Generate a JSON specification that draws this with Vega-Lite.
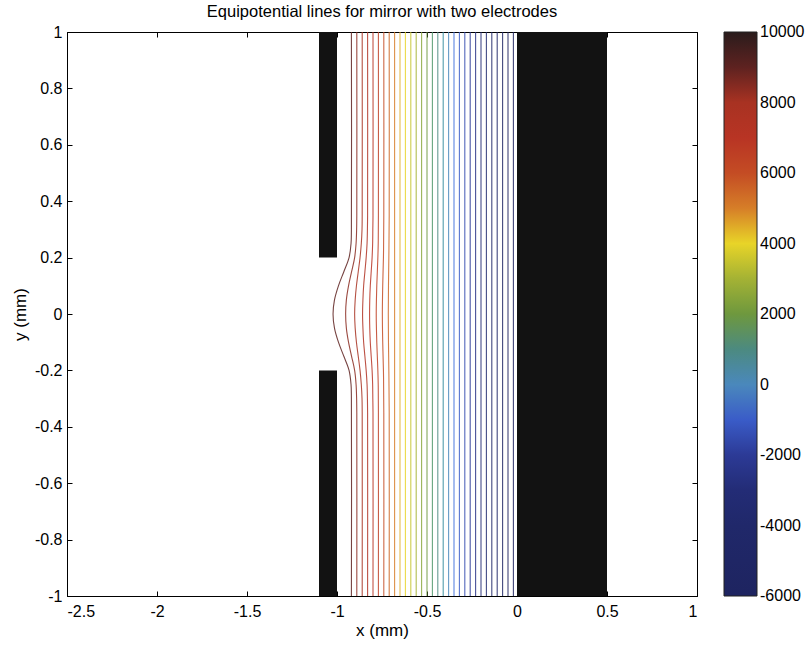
{
  "$schema": "https://vega.github.io/schema/vega-lite/v6.json",
  "width": 630,
  "height": 564,
  "autosize": {"type": "none"},
  "padding": {"left": 67, "top": 32, "right": 110, "bottom": 49},
  "background": "white",
  "config": {
    "font": "Liberation Sans",
    "view": {"stroke": "#000", "strokeWidth": 1},
    "axis": {"grid": false, "labelFontSize": 16, "labelColor": "#000", "labelFont": "Liberation Sans", "titleFont": "Liberation Sans", "titleFontSize": 17, "titleFontWeight": "normal", "titleColor": "#000", "tickColor": "#000", "domainColor": "#000", "tickSize": -5, "labelExpr": "toString(datum.value)"}
  },
  "title": {"text": "Equipotential lines for mirror with two electrodes", "fontSize": 16.5, "fontWeight": "normal", "font": "Liberation Sans", "color": "#000", "anchor": "middle", "offset": 12, "baseline": "bottom", "dy": 24},
  "datasets": {
    "electrodes": [
      {"x1": -1.1, "x2": -1.0, "y1": 0.2, "y2": 1.0},
      {"x1": -1.1, "x2": -1.0, "y1": -1.0, "y2": -0.2},
      {"x1": 0.0, "x2": 0.5, "y1": -1.0, "y2": 1.0}
    ],
    "lines": [
      {"v": 9000, "y": -1, "x": -0.92}, {"v": 9000, "y": -0.3, "x": -0.92}, {"v": 9000, "y": -0.25, "x": -0.922}, {"v": 9000, "y": -0.2, "x": -0.933}, {"v": 9000, "y": -0.15, "x": -0.962}, {"v": 9000, "y": -0.1, "x": -0.992}, {"v": 9000, "y": -0.05, "x": -1.014}, {"v": 9000, "y": 0, "x": -1.022}, {"v": 9000, "y": 0.05, "x": -1.014}, {"v": 9000, "y": 0.1, "x": -0.992}, {"v": 9000, "y": 0.15, "x": -0.962}, {"v": 9000, "y": 0.2, "x": -0.933}, {"v": 9000, "y": 0.25, "x": -0.922}, {"v": 9000, "y": 0.3, "x": -0.92}, {"v": 9000, "y": 1, "x": -0.92},
      {"v": 8500, "y": -1, "x": -0.89}, {"v": 8500, "y": -0.35, "x": -0.89}, {"v": 8500, "y": -0.3, "x": -0.891}, {"v": 8500, "y": -0.25, "x": -0.894}, {"v": 8500, "y": -0.2, "x": -0.902}, {"v": 8500, "y": -0.15, "x": -0.919}, {"v": 8500, "y": -0.1, "x": -0.936}, {"v": 8500, "y": -0.05, "x": -0.948}, {"v": 8500, "y": 0, "x": -0.952}, {"v": 8500, "y": 0.05, "x": -0.948}, {"v": 8500, "y": 0.1, "x": -0.936}, {"v": 8500, "y": 0.15, "x": -0.919}, {"v": 8500, "y": 0.2, "x": -0.902}, {"v": 8500, "y": 0.25, "x": -0.894}, {"v": 8500, "y": 0.3, "x": -0.891}, {"v": 8500, "y": 0.35, "x": -0.89}, {"v": 8500, "y": 1, "x": -0.89},
      {"v": 8000, "y": -1, "x": -0.86}, {"v": 8000, "y": -0.35, "x": -0.86}, {"v": 8000, "y": -0.3, "x": -0.861}, {"v": 8000, "y": -0.25, "x": -0.865}, {"v": 8000, "y": -0.2, "x": -0.872}, {"v": 8000, "y": -0.15, "x": -0.882}, {"v": 8000, "y": -0.1, "x": -0.892}, {"v": 8000, "y": -0.05, "x": -0.899}, {"v": 8000, "y": 0, "x": -0.902}, {"v": 8000, "y": 0.05, "x": -0.899}, {"v": 8000, "y": 0.1, "x": -0.892}, {"v": 8000, "y": 0.15, "x": -0.882}, {"v": 8000, "y": 0.2, "x": -0.872}, {"v": 8000, "y": 0.25, "x": -0.865}, {"v": 8000, "y": 0.3, "x": -0.861}, {"v": 8000, "y": 0.35, "x": -0.86}, {"v": 8000, "y": 1, "x": -0.86},
      {"v": 7500, "y": -1, "x": -0.83}, {"v": 7500, "y": -0.35, "x": -0.83}, {"v": 7500, "y": -0.3, "x": -0.831}, {"v": 7500, "y": -0.25, "x": -0.833}, {"v": 7500, "y": -0.2, "x": -0.838}, {"v": 7500, "y": -0.15, "x": -0.845}, {"v": 7500, "y": -0.1, "x": -0.852}, {"v": 7500, "y": -0.05, "x": -0.856}, {"v": 7500, "y": 0, "x": -0.858}, {"v": 7500, "y": 0.05, "x": -0.856}, {"v": 7500, "y": 0.1, "x": -0.852}, {"v": 7500, "y": 0.15, "x": -0.845}, {"v": 7500, "y": 0.2, "x": -0.838}, {"v": 7500, "y": 0.25, "x": -0.833}, {"v": 7500, "y": 0.3, "x": -0.831}, {"v": 7500, "y": 0.35, "x": -0.83}, {"v": 7500, "y": 1, "x": -0.83},
      {"v": 7000, "y": -1, "x": -0.8}, {"v": 7000, "y": -0.35, "x": -0.8}, {"v": 7000, "y": -0.3, "x": -0.801}, {"v": 7000, "y": -0.25, "x": -0.802}, {"v": 7000, "y": -0.2, "x": -0.805}, {"v": 7000, "y": -0.15, "x": -0.81}, {"v": 7000, "y": -0.1, "x": -0.815}, {"v": 7000, "y": -0.05, "x": -0.818}, {"v": 7000, "y": 0, "x": -0.819}, {"v": 7000, "y": 0.05, "x": -0.818}, {"v": 7000, "y": 0.1, "x": -0.815}, {"v": 7000, "y": 0.15, "x": -0.81}, {"v": 7000, "y": 0.2, "x": -0.805}, {"v": 7000, "y": 0.25, "x": -0.802}, {"v": 7000, "y": 0.3, "x": -0.801}, {"v": 7000, "y": 0.35, "x": -0.8}, {"v": 7000, "y": 1, "x": -0.8},
      {"v": 6500, "y": -1, "x": -0.77}, {"v": 6500, "y": -0.35, "x": -0.77}, {"v": 6500, "y": -0.25, "x": -0.771}, {"v": 6500, "y": -0.2, "x": -0.773}, {"v": 6500, "y": -0.15, "x": -0.776}, {"v": 6500, "y": -0.1, "x": -0.779}, {"v": 6500, "y": -0.05, "x": -0.781}, {"v": 6500, "y": 0, "x": -0.782}, {"v": 6500, "y": 0.05, "x": -0.781}, {"v": 6500, "y": 0.1, "x": -0.779}, {"v": 6500, "y": 0.15, "x": -0.776}, {"v": 6500, "y": 0.2, "x": -0.773}, {"v": 6500, "y": 0.25, "x": -0.771}, {"v": 6500, "y": 0.35, "x": -0.77}, {"v": 6500, "y": 1, "x": -0.77},
      {"v": 6000, "y": -1, "x": -0.74}, {"v": 6000, "y": -0.35, "x": -0.74}, {"v": 6000, "y": -0.2, "x": -0.742}, {"v": 6000, "y": -0.1, "x": -0.746}, {"v": 6000, "y": 0, "x": -0.748}, {"v": 6000, "y": 0.1, "x": -0.746}, {"v": 6000, "y": 0.2, "x": -0.742}, {"v": 6000, "y": 0.35, "x": -0.74}, {"v": 6000, "y": 1, "x": -0.74},
      {"v": 5500, "y": -1, "x": -0.71}, {"v": 5500, "y": -0.35, "x": -0.71}, {"v": 5500, "y": -0.2, "x": -0.712}, {"v": 5500, "y": -0.1, "x": -0.714}, {"v": 5500, "y": 0, "x": -0.715}, {"v": 5500, "y": 0.1, "x": -0.714}, {"v": 5500, "y": 0.2, "x": -0.712}, {"v": 5500, "y": 0.35, "x": -0.71}, {"v": 5500, "y": 1, "x": -0.71},
      {"v": 5000, "y": -1, "x": -0.68}, {"v": 5000, "y": 1, "x": -0.68},
      {"v": 4500, "y": -1, "x": -0.65}, {"v": 4500, "y": 1, "x": -0.65},
      {"v": 4000, "y": -1, "x": -0.62}, {"v": 4000, "y": 1, "x": -0.62},
      {"v": 3500, "y": -1, "x": -0.59}, {"v": 3500, "y": 1, "x": -0.59},
      {"v": 3000, "y": -1, "x": -0.56}, {"v": 3000, "y": 1, "x": -0.56},
      {"v": 2500, "y": -1, "x": -0.53}, {"v": 2500, "y": 1, "x": -0.53},
      {"v": 2000, "y": -1, "x": -0.5}, {"v": 2000, "y": 1, "x": -0.5},
      {"v": 1500, "y": -1, "x": -0.47}, {"v": 1500, "y": 1, "x": -0.47},
      {"v": 1000, "y": -1, "x": -0.44}, {"v": 1000, "y": 1, "x": -0.44},
      {"v": 500, "y": -1, "x": -0.41}, {"v": 500, "y": 1, "x": -0.41},
      {"v": 0, "y": -1, "x": -0.38}, {"v": 0, "y": 1, "x": -0.38},
      {"v": -500, "y": -1, "x": -0.35}, {"v": -500, "y": 1, "x": -0.35},
      {"v": -1000, "y": -1, "x": -0.32}, {"v": -1000, "y": 1, "x": -0.32},
      {"v": -1500, "y": -1, "x": -0.29}, {"v": -1500, "y": 1, "x": -0.29},
      {"v": -2000, "y": -1, "x": -0.26}, {"v": -2000, "y": 1, "x": -0.26},
      {"v": -2500, "y": -1, "x": -0.23}, {"v": -2500, "y": 1, "x": -0.23},
      {"v": -3000, "y": -1, "x": -0.2}, {"v": -3000, "y": 1, "x": -0.2},
      {"v": -3500, "y": -1, "x": -0.17}, {"v": -3500, "y": 1, "x": -0.17},
      {"v": -4000, "y": -1, "x": -0.14}, {"v": -4000, "y": 1, "x": -0.14},
      {"v": -4500, "y": -1, "x": -0.11}, {"v": -4500, "y": 1, "x": -0.11},
      {"v": -5000, "y": -1, "x": -0.08}, {"v": -5000, "y": 1, "x": -0.08},
      {"v": -5500, "y": -1, "x": -0.05}, {"v": -5500, "y": 1, "x": -0.05},
      {"v": -6000, "y": -1, "x": -0.02}, {"v": -6000, "y": 1, "x": -0.02}
    ]
  },
  "layer": [
    {
      "data": {"name": "lines"},
      "mark": {"type": "line", "interpolate": "catmull-rom", "strokeWidth": 1.1, "strokeOpacity": 0.85, "clip": true},
      "encoding": {
        "x": {"field": "x", "type": "quantitative", "scale": {"domain": [-2.5, 1], "nice": false, "zero": false},
              "axis": {"orient": "top", "labels": false, "title": null, "domain": false, "values": [-2.5, -2, -1.5, -1, -0.5, 0, 0.5, 1]}},
        "y": {"field": "y", "type": "quantitative", "scale": {"domain": [-1, 1], "nice": false, "zero": false},
              "axis": {"orient": "right", "labels": false, "title": null, "domain": false, "values": [-1, -0.8, -0.6, -0.4, -0.2, 0, 0.2, 0.4, 0.6, 0.8, 1]}},
        "color": {"field": "v", "type": "quantitative",
          "scale": {"domain": [-6000, -4000, -3000, -2000, -1000, -500, 0, 1000, 2000, 3000, 4000, 4500, 5000, 6000, 7000, 8000, 8500, 9000, 10000],
                    "range": ["#1e2460", "#20286a", "#232c76", "#2c3a96", "#3a5cc8", "#4070dc", "#4a88bc", "#4c8a80", "#6e983e", "#a4b234", "#e8d428", "#e0b030", "#d67e28", "#c44c24", "#b83424", "#a83222", "#8a2a20", "#5e2220", "#2a1c1c"]},
          "legend": {"orient": "right", "offset": 26, "padding": 0, "gradientLength": 564, "gradientThickness": 33, "title": null, "direction": "vertical",
                     "values": [-6000, -4000, -2000, 0, 2000, 4000, 6000, 8000, 10000], "labelExpr": "toString(datum.value)",
                     "labelFontSize": 16, "labelFont": "Liberation Sans", "labelColor": "#000", "labelOffset": 3, "labelOverlap": false,
                     "gradientStrokeColor": "#222", "gradientStrokeWidth": 1, "gradientOpacity": 1,
                     "encode": {"labels": {"update": {"baseline": {"value": "middle"}}}}}},
        "detail": {"field": "v"},
        "order": {"field": "y", "type": "quantitative"}
      }
    },
    {
      "data": {"name": "electrodes"},
      "mark": {"type": "rect", "color": "#121212"},
      "encoding": {
        "x": {"field": "x1", "type": "quantitative",
              "axis": {"orient": "bottom", "title": "x (mm)", "values": [-2.5, -2, -1.5, -1, -0.5, 0, 0.5, 1], "labelPadding": 12, "titlePadding": 3}},
        "x2": {"field": "x2"},
        "y": {"field": "y1", "type": "quantitative",
              "axis": {"orient": "left", "title": "y (mm)", "values": [-1, -0.8, -0.6, -0.4, -0.2, 0, 0.2, 0.4, 0.6, 0.8, 1], "labelPadding": 10, "titlePadding": 5}},
        "y2": {"field": "y2"}
      }
    }
  ]
}
